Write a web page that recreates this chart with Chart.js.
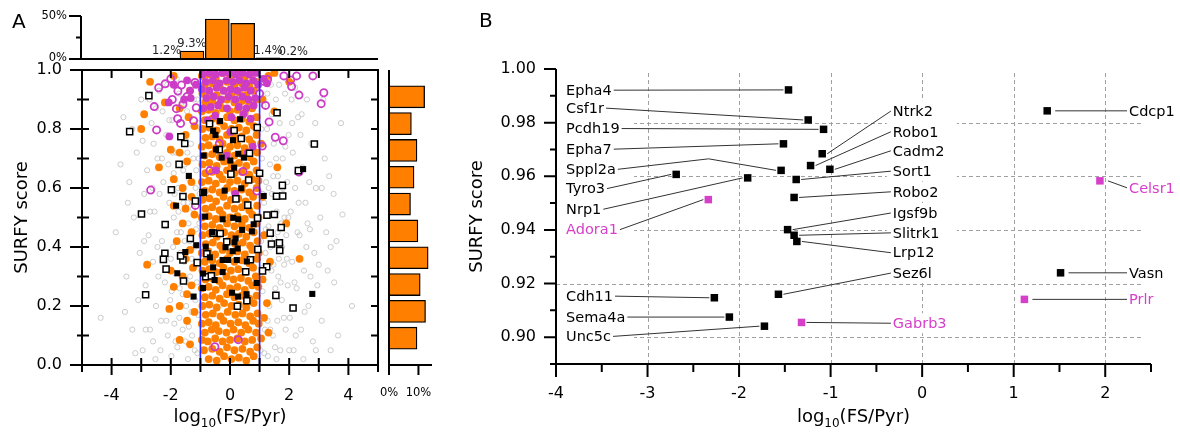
<!DOCTYPE html>
<html>
<head>
<meta charset="utf-8">
<script src="https://cdn.jsdelivr.net/npm/chart.js@4.4.0/dist/chart.umd.min.js"></script>
<style>
  body { margin: 0; background: #fff; width: 1180px; height: 434px; position: relative; overflow: hidden; }
  canvas { position: absolute; }
</style>
</head>
<body>
<canvas id="a-main" width="390" height="434" style="left:0px;top:0px"></canvas>
<canvas id="a-top" width="390" height="68" style="left:0px;top:0px"></canvas>
<canvas id="a-right" width="70" height="434" style="left:372px;top:0px"></canvas>
<canvas id="b-main" width="740" height="434" style="left:440px;top:0px"></canvas>
<script>
// ---- Painel A: histogramas ----
var topHistX = [-2.5, -1.5, -0.5, 0.5, 1.5, 2.5];
var topHistPct = [1.2, 9.3, 46.4, 41.5, 1.4, 0.2];
var rightHistY = [0.95, 0.85, 0.75, 0.65, 0.55, 0.45, 0.35, 0.25, 0.15, 0.05];
var rightHistPct = [12.1, 7.6, 9.5, 8.5, 7.3, 9.8, 13.3, 10.6, 12.4, 9.5];
var cutoffs = [-1, 1];

// ---- Painel A: pontos (log10 FS/Pyr, SURFY score) ----
var grayPts = [[-4.37,.16],[-3.86,.45],[-3.6,.84],[-3.5,.3],[-3.4,.62],[-3.3,.12],[-3.25,.5],[-3.15,.72],[-3.1,.22],[-3.05,.38],[-3.0,.9],[-2.95,.05],[-3.2,.04],[-3.45,.55],[-3.7,.68],
  [-2.9,.58],[-2.85,.27],[-2.8,.66],[-2.75,.44],[-2.7,.12],[-2.65,.82],[-2.6,.35],[-2.55,.52],[-2.5,.2],[-2.45,.7],[-2.4,.93],[-2.35,.05],[-2.3,.42],[-2.25,.62],[-2.2,.28],[-2.15,.78],[-2.1,.1],[-2.05,.55],[-2.0,.36],[-2.95,.76],[-2.62,.6],[-2.42,.3],[-2.28,.86],[-2.18,.47],[-2.08,.68],[-2.72,.9],[-2.52,.02],[-2.33,.15],[-2.12,.95],[-2.9,.42],[-2.58,.75],[-2.38,.58],[-2.22,.38],[-2.02,.22],
  [-1.95,.83],[-1.9,.5],[-1.88,.14],[-1.85,.31],[-1.82,.72],[-1.78,.06],[-1.75,.6],[-1.72,.92],[-1.7,.26],[-1.66,.45],[-1.62,.78],[-1.6,.12],[-1.57,.55],[-1.55,.35],[-1.52,.68],[-1.48,.2],[-1.45,.86],[-1.42,.02],[-1.4,.48],[-1.38,.63],[-1.35,.3],[-1.32,.75],[-1.28,.1],[-1.25,.53],[-1.22,.9],[-1.2,.4],[-1.17,.22],[-1.14,.66],[-1.1,.04],[-1.08,.82],[-1.05,.34],[-1.03,.58],[-1.92,.4],[-1.8,.97],[-1.68,.38],[-1.5,.08],[-1.3,.18],[-1.15,.46],[-1.9,.65],[-1.6,.24],[-1.44,.72],[-1.26,.96],[-1.12,.28],[-1.98,.03],[-1.74,.52],[-1.36,.42],[-1.06,.7],
  [-2.05,.83],[-1.97,.25],[-1.93,.72],[-1.87,.58],[-1.84,.08],[-1.79,.45],[-1.71,.16],[-1.64,.88],[-1.58,.66],[-1.53,.42],[-1.47,.28],[-1.43,.55],[-1.39,.13],[-1.34,.84],[-1.29,.36],[-1.24,.7],[-1.19,.05],[-1.16,.6],[-1.11,.9],[-1.07,.17],[-1.04,.48],[-2.45,.4],[-2.6,.08],[-2.3,.7],[-2.15,.15],[-2.7,.52],[-2.5,.87],[-3.3,.8],[-3.55,.18],[-2.85,.12],
  [1.03,.05],[1.05,.42],[1.08,.7],[1.1,.25],[1.13,.88],[1.15,.55],[1.18,.12],[1.2,.38],[1.22,.62],[1.25,.8],[1.28,.03],[1.3,.47],[1.33,.2],[1.35,.68],[1.38,.95],[1.4,.32],[1.42,.58],[1.45,.1],[1.48,.75],[1.5,.43],[1.53,.26],[1.55,.9],[1.58,.52],[1.6,.15],[1.62,.64],[1.65,.36],[1.68,.82],[1.7,.05],[1.73,.48],[1.75,.22],[1.78,.7],[1.8,.58],[1.83,.34],[1.86,.92],[1.88,.12],[1.9,.44],[1.93,.62],[1.95,.27],[1.98,.78],[1.12,.33],[1.27,.15],[1.46,.64],[1.63,.3],[1.84,.5],[1.07,.97],[1.37,.4],[1.57,.02],[1.76,.4],
  [1.02,.3],[1.06,.8],[1.1,.58],[1.16,.04],[1.21,.46],[1.26,.92],[1.31,.6],[1.36,.12],[1.41,.85],[1.47,.34],[1.52,.06],[1.56,.7],[1.61,.45],[1.66,.95],[1.71,.28],[1.77,.6],[1.82,.16],[1.87,.74],[1.92,.36],[1.97,.5],
  [2.02,.16],[2.05,.52],[2.1,.35],[2.12,.72],[2.15,.05],[2.2,.6],[2.25,.26],[2.3,.84],[2.35,.44],[2.4,.12],[2.45,.67],[2.5,.32],[2.55,.55],[2.6,.9],[2.65,.2],[2.7,.46],[2.75,.75],[2.8,.08],[2.85,.38],[2.9,.6],[2.95,.27],[2.08,.9],[2.28,.45],[2.48,.02],[2.68,.62],[2.88,.82],[2.18,.28],[2.38,.78],[2.58,.4],
  [2.1,.82],[2.22,.1],[2.32,.55],[2.42,.85],[2.52,.18],[2.62,.48],[2.72,.3],[2.9,.05],[2.2,.94],[2.0,.05],
  [3.05,.5],[3.1,.15],[3.2,.7],[3.3,.32],[3.4,.05],[3.5,.58],[3.52,.28],[3.6,.42],[3.75,.82],[3.8,.51],[4.12,.2],[3.15,.9],[3.35,.64],[3.65,.1],[3.25,.45],[3.0,.34],[3.1,.6],[3.4,.4]];

var orangePts = [[-.72,.02],[-.45,.015],[-.2,.03],[.05,.02],[.3,.025],[.55,.015],[.8,.03],
  [-.88,.05],[-.6,.055],[-.35,.045],[-.1,.06],[.15,.05],[.42,.055],[.68,.045],[.92,.06],[-1.35,.07],
  [-.95,.085],[-.75,.08],[-.5,.09],[-.25,.08],[0,.085],[.25,.09],[.5,.08],[.75,.085],[1.05,.09],[-1.7,.085],
  [-.85,.11],[-.62,.12],[-.38,.115],[-.12,.11],[.12,.12],[.38,.11],[.62,.12],[.88,.11],[1.3,.11],
  [-.95,.14],[-.72,.145],[-.48,.135],[-.22,.15],[.02,.14],[.28,.145],[.52,.135],[.78,.15],[.97,.14],[-1.45,.15],[1.15,.16],
  [-.82,.17],[-.58,.175],[-.32,.165],[-.08,.18],[.18,.17],[.42,.175],[.68,.165],[.93,.175],[-1.2,.18],
  [-.93,.2],[-.7,.205],[-.45,.195],[-.2,.21],[.05,.2],[.3,.205],[.55,.195],[.8,.21],[-1.7,.2],[-2.05,.19],[1.25,.21],
  [-.85,.23],[-.6,.235],[-.35,.225],[-.1,.24],[.15,.23],[.4,.235],[.65,.225],[.9,.235],[-1.45,.24],
  [-.95,.26],[-.72,.265],[-.48,.255],[-.25,.27],[0,.26],[.25,.265],[.5,.255],[.75,.27],[.96,.265],[-1.3,.27],[-1.9,.265],
  [-.83,.29],[-.6,.295],[-.37,.285],[-.12,.3],[.12,.29],[.37,.295],[.62,.285],[.87,.3],[-1.6,.3],[1.1,.29],
  [-.93,.32],[-.7,.325],[-.47,.315],[-.22,.33],[.03,.32],[.28,.325],[.53,.315],[.78,.33],[-1.25,.33],[-2.0,.32],
  [-.85,.35],[-.6,.355],[-.35,.345],[-.1,.36],[.15,.35],[.4,.355],[.65,.345],[.92,.36],[-1.5,.36],[-2.8,.34],[1.35,.35],
  [-.95,.38],[-.73,.385],[-.5,.375],[-.25,.39],[0,.38],[.25,.385],[.5,.375],[.75,.39],[.97,.38],[-1.35,.39],[2.35,.36],
  [-.82,.41],[-.58,.415],[-.33,.405],[-.08,.42],[.18,.41],[.43,.415],[.68,.405],[.93,.42],[-1.8,.42],
  [-.93,.44],[-.7,.445],[-.45,.435],[-.2,.45],[.05,.44],[.3,.445],[.55,.435],[.8,.45],[-1.3,.45],[1.15,.44],
  [-.85,.47],[-.6,.475],[-.35,.465],[-.1,.48],[.15,.47],[.4,.475],[.65,.465],[.9,.48],[-1.6,.48],[1.9,.48],
  [-.95,.5],[-.72,.505],[-.48,.495],[-.25,.51],[0,.5],[.25,.505],[.5,.495],[.75,.51],[.96,.5],[-1.2,.51],
  [-.83,.53],[-.6,.535],[-.35,.525],[-.1,.54],[.15,.53],[.4,.535],[.65,.525],[.92,.54],[-1.5,.53],[-1.9,.54],
  [-.93,.56],[-.7,.565],[-.47,.555],[-.22,.57],[.03,.56],[.28,.565],[.53,.555],[.78,.57],[-1.3,.57],[1.1,.57],
  [-.85,.59],[-.6,.595],[-.35,.585],[-.1,.6],[.15,.59],[.4,.595],[.65,.585],[.9,.6],[-1.6,.6],
  [-.95,.62],[-.72,.625],[-.48,.615],[-.25,.63],[0,.62],[.25,.625],[.5,.615],[.75,.63],[.96,.625],[-1.9,.63],[-1.3,.62],
  [-.83,.65],[-.6,.655],[-.35,.645],[-.1,.66],[.15,.65],[.4,.655],[.65,.645],[.9,.66],[1.6,.67],
  [-.93,.68],[-.7,.685],[-.45,.675],[-.2,.69],[.05,.68],[.3,.685],[.55,.675],[.8,.69],[-2.4,.67],[-1.45,.69],
  [-.85,.71],[-.6,.715],[-.35,.705],[-.1,.72],[.15,.71],[.4,.715],[.65,.705],[.92,.72],[-1.7,.72],
  [-.95,.74],[-.72,.745],[-.48,.735],[-.25,.75],[0,.74],[.25,.745],[.5,.735],[.75,.75],[-2.0,.73],[1.05,.75],
  [-.83,.77],[-.6,.775],[-.35,.765],[-.1,.78],[.15,.77],[.4,.775],[.65,.765],[.9,.78],[-1.5,.78],
  [-.93,.8],[-.7,.805],[-.45,.795],[-.2,.81],[.05,.8],[.3,.805],[.55,.795],[.8,.81],[-3.0,.8],[-1.2,.81],
  [-.85,.83],[-.6,.835],[-.35,.825],[-.1,.84],[.15,.83],[.4,.835],[.65,.825],[.9,.84],[-1.4,.84],
  [-.95,.86],[-.72,.865],[-.48,.855],[-.25,.87],[0,.86],[.25,.865],[.5,.855],[.75,.87],[-2.9,.85],[1.5,.86],[-1.7,.87],
  [-.83,.89],[-.6,.895],[-.35,.885],[-.1,.9],[.15,.89],[.4,.895],[.65,.885],[.9,.9],[-2.2,.89],[1.1,.9],
  [-.93,.92],[-.7,.925],[-.45,.915],[-.2,.93],[.05,.92],[.3,.925],[.55,.915],[.8,.93],[-1.35,.93],
  [-.85,.95],[-.6,.955],[-.35,.945],[-.1,.96],[.15,.95],[.4,.955],[.65,.945],[.9,.96],[-2.7,.96],[2.0,.96],
  [-.95,.98],[-.72,.985],[-.48,.975],[-.25,.99],[0,.98],[.25,.985],[.5,.975],[.75,.99],[-1.9,.98],[1.3,.98],[1.5,.99]];

var magentaOpenPts = [[-2.41,.94],[-2.19,.953],[-1.76,.929],[-1.64,.949],[-2.56,.876],[-2.48,.797],[-1.77,.835],[-1.67,.819],[-1.81,.869],[-1.59,.884],[-1.23,.828],[-1.14,.872],[-1.18,.958],[-2.68,.593],[-1.17,.541],[1.82,.98],[2.25,.98],[2.8,.98],[2.08,.944],[2.33,.915],[3.17,.923],[3.08,.886],[1.32,.824],[1.53,.772],[1.8,.76],[1.09,.742],[2.33,.654],[.44,.656],[-.68,.659],[.28,.086],[-.51,.062],[1.14,.962],[1.27,.968],[.91,.59],[-.36,.75],[2.05,.966],[-1.45,.91],[-2.0,.97],[-1.95,.9],[1.0,.92],[1.2,.88]];

var magentaFillPts = [[-.92,.985],[-.7,.99],[-.48,.985],[-.25,.99],[-.02,.99],[.2,.985],[.42,.99],[.65,.985],[.88,.99],
  [-.82,.96],[-.58,.965],[-.35,.955],[-.12,.965],[.1,.96],[.32,.965],[.55,.955],[.78,.965],[.95,.95],
  [-.95,.935],[-.7,.93],[-.45,.94],[-.22,.93],[.02,.935],[.25,.93],[.48,.94],[.7,.93],
  [-.8,.905],[-.55,.91],[-.3,.9],[-.05,.91],[.18,.9],[.42,.91],[.62,.9],[.85,.905],
  [-.65,.875],[-.4,.88],[-.1,.87],[.3,.875],[.55,.87],[.8,.88],[-.9,.87],
  [-.5,.845],[.05,.84],[.45,.85],[-.75,.83],[.7,.835],
  [-1.15,.95],[-1.35,.93],[-1.55,.9],[-1.33,.905],[-2.07,.89],[-2.05,.775],[-1.45,.965],[-1.9,.95],[1.12,.97],[1.25,.955],
  [.01,.79],[-.11,.71],[.77,.74],[-.47,.66],[.18,.58],[.6,.72]];

var blackFillPts = [[-.34,.827],[-.57,.794],[-.49,.78],[.1,.762],[-.47,.731],[.28,.716],[-.89,.71],[-.28,.703],[.01,.693],[.47,.703],[.14,.669],[-1.39,.641],[-.18,.591],[.38,.599],[-.88,.586],[1.14,.573],[2.47,.664],[-1.82,.54],[-.84,.503],[.11,.499],[-.25,.494],[.28,.494],[.8,.477],[.41,.458],[-.61,.45],[.74,.453],[-1.14,.406],[.19,.429],[.15,.416],[-.15,.399],[-.82,.401],[-1.51,.383],[.26,.395],[-.68,.365],[-.06,.356],[-.25,.356],[.23,.356],[.57,.351],[-1.78,.311],[-.57,.331],[-.25,.315],[-.91,.31],[-.52,.288],[-.91,.261],[-1.23,.232],[.07,.245],[.27,.232],[.56,.24],[.9,.278],[2.78,.241],[.34,.833],[.09,.386]];

var blackOpenPts = [[-3.39,.791],[-2.74,.913],[-1.66,.774],[-1.53,.751],[-1.72,.68],[-1.98,.594],[-1.59,.571],[-1.17,.556],[-2.99,.512],[-2.19,.476],[-1.34,.429],[-2.2,.379],[-2.25,.358],[-2.16,.325],[-1.59,.356],[-1.67,.37],[-1.11,.347],[-1.57,.285],[-2.85,.238],[-.69,.818],[.14,.795],[.92,.805],[.38,.768],[-.36,.73],[.66,.718],[.03,.647],[.63,.627],[1.0,.65],[1.59,.855],[2.85,.749],[2.31,.659],[1.77,.609],[1.57,.572],[1.78,.573],[1.25,.508],[1.5,.51],[1.36,.447],[1.73,.466],[1.4,.41],[1.67,.414],[1.68,.388],[.94,.392],[1.24,.333],[1.1,.319],[1.55,.236],[2.13,.193],[.25,.199],[.57,.218],[-.91,.585],[-.57,.447],[-.33,.446],[.2,.563],[.6,.542],[.93,.498],[-.82,.299],[-.63,.302],[-.11,.418],[-.78,.377],[.53,.316],[.69,.357]];

// ---- Painel B: genes ----
var geneNames = ["Epha4","Csf1r","Pcdh19","Epha7","Sppl2a","Tyro3","Nrp1","Adora1","Cdh11","Sema4a","Unc5c",
  "Ntrk2","Robo1","Cadm2","Sort1","Robo2","Igsf9b","Slitrk1","Lrp12","Sez6l","Gabrb3",
  "Cdcp1","Celsr1","Vasn","Prlr"];
var geneX = [-1.46,-1.245,-1.077,-1.515,-1.541,-2.687,-1.906,-2.336,-2.27,-2.106,-1.723,
  -1.092,-1.219,-1.008,-1.376,-1.399,-1.47,-1.399,-1.369,-1.57,-1.318,
  1.366,1.942,1.512,1.117];
var geneY = [0.9922,0.981,0.9775,0.9721,0.9622,0.9607,0.9594,0.9513,0.9147,0.9075,0.9041,
  0.9684,0.964,0.9626,0.9588,0.9521,0.9401,0.938,0.9357,0.916,0.9055,
  0.9844,0.9583,0.924,0.9141];
var pinkGenes = ["Adora1","Gabrb3","Celsr1","Prlr"];

// posição dos rótulos (layout, em unidades dos eixos)
var labelCol = ["L","L","L","L","L","L","L","L","L","L","L","M","M","M","M","M","M","M","M","M","M","R","R","R","R"];
var labelY = [0.9921,0.9854,0.9778,0.9701,0.9626,0.9554,0.9477,0.9401,0.9153,0.9075,0.9003,
  0.9843,0.9766,0.9695,0.9619,0.9542,0.9463,0.9389,0.9315,0.9239,0.9052,
  0.9844,0.9557,0.924,0.9141];
var colX = { L: -3.89, M: -0.32, R: 2.26 };
var colBox = { L: [-9, 77], M: [-6, 70], R: [-3, 60] };
var elbows = { Sppl2a: [-2.333, 0.9665] };

var FONT = "'DejaVu Sans', sans-serif";
Chart.defaults.font.family = FONT;
Chart.defaults.color = "#000";

var ORANGE = "#ff8000";
var MAGENTA = "#cc3cc6";
var PINK_B = "#d63fc9";

function pts(list) {
  return list.map(function (p) { return { x: p[0], y: p[1] }; });
}

function seg(ctx, x1, y1, x2, y2) {
  ctx.moveTo(x1, y1);
  ctx.lineTo(x2, y2);
}

// a folga dos rótulos não deve encolher a área do gráfico
function fitX(h) {
  return function (s) { s.height = h; s.paddingLeft = 0; s.paddingRight = 0; };
}
function fitY(w) {
  return function (s) { s.width = w; s.paddingTop = 0; s.paddingBottom = 0; };
}

function logTitle(ctx, cx, baseline) {
  var big = "18px " + FONT, small = "12px " + FONT;
  ctx.save();
  ctx.fillStyle = "#000";
  ctx.textAlign = "left";
  ctx.textBaseline = "alphabetic";
  ctx.font = big;
  var w1 = ctx.measureText("log").width;
  var w3 = ctx.measureText("(FS/Pyr)").width;
  ctx.font = small;
  var w2 = ctx.measureText("10").width;
  var x0 = cx - (w1 + w2 + w3) / 2;
  ctx.font = big;
  ctx.fillText("log", x0, baseline);
  ctx.font = small;
  ctx.fillText("10", x0 + w1, baseline + 5);
  ctx.font = big;
  ctx.fillText("(FS/Pyr)", x0 + w1 + w2, baseline);
  ctx.restore();
}

var noLegend = { legend: { display: false }, tooltip: { enabled: false } };

//Moldura e ticks do painel A
var frameA = {
  id: "frameA",
  afterDraw: function (chart) {
    var ctx = chart.ctx, a = chart.chartArea, x = chart.scales.x, y = chart.scales.y;
    ctx.save();
    ctx.strokeStyle = "#000";
    ctx.lineWidth = 2;
    ctx.strokeRect(a.left, a.top, a.right - a.left, a.bottom - a.top);
    ctx.beginPath();
    for (var v = -5; v <= 5; v++) {
      var px = x.getPixelForValue(v);
      seg(ctx, px, a.bottom - 7, px, a.bottom + (v % 2 === 0 ? 10 : 7));
      seg(ctx, px, a.top, px, a.top + 8);
    }
    for (var i = 0; i <= 10; i++) {
      var py = y.getPixelForValue(i / 10);
      seg(ctx, a.left - (i % 2 === 0 ? 12 : 5), py, a.left + 7, py);
      seg(ctx, a.right - 7, py, a.right, py);
    }
    ctx.stroke();
    ctx.restore();
    logTitle(ctx, (a.left + a.right) / 2, 422);
    ctx.save();
    ctx.font = "20px " + FONT;
    ctx.fillStyle = "#000";
    ctx.fillText("A", 12, 28);
    ctx.restore();
  }
};

new Chart(document.getElementById("a-main"), {
  type: "scatter",
  data: {
    datasets: [
      { data: pts(blackFillPts), pointStyle: "rect", pointRadius: 4.3, backgroundColor: "#000", borderWidth: 0 },
      { data: pts(blackOpenPts), pointStyle: "rect", pointRadius: 4.3, backgroundColor: "#fff", borderColor: "#000", borderWidth: 1.5 },
      { data: [{ x: cutoffs[0], y: 0 }, { x: cutoffs[0], y: 1 }], showLine: true, pointRadius: 0, borderColor: "#2323ff", borderWidth: 1.6 },
      { data: [{ x: cutoffs[1], y: 0 }, { x: cutoffs[1], y: 1 }], showLine: true, pointRadius: 0, borderColor: "#2323ff", borderWidth: 1.6 },
      { data: pts(magentaFillPts), pointRadius: 3.9, backgroundColor: MAGENTA, borderWidth: 0 },
      { data: pts(magentaOpenPts), pointRadius: 3.6, backgroundColor: "rgba(0,0,0,0)", borderColor: MAGENTA, borderWidth: 1.8 },
      { data: pts(orangePts), pointRadius: 3.9, backgroundColor: ORANGE, borderWidth: 0 },
      { data: pts(grayPts), pointRadius: 2.6, backgroundColor: "rgba(0,0,0,0)", borderColor: "#c6c6c6", borderWidth: 0.9 }
    ]
  },
  options: {
    responsive: false,
    animation: false,
    devicePixelRatio: 1,
    layout: { padding: { top: 70, right: 12, left: 0, bottom: 0 } },
    plugins: noLegend,
    scales: {
      x: {
        type: "linear", min: -5, max: 5,
        grid: { display: false, drawTicks: false }, border: { display: false },
        ticks: { stepSize: 1, autoSkip: false, maxRotation: 0, padding: 21, font: { size: 16 },
          callback: function (v) { return v % 2 === 0 ? String(v) : ""; } },
        afterFit: fitX(69)
      },
      y: {
        min: 0, max: 1,
        grid: { display: false, drawTicks: false }, border: { display: false },
        ticks: { stepSize: 0.1, autoSkip: false, padding: 20, font: { size: 16 },
          callback: function (v) { return Math.round(v * 10) % 2 === 0 ? v.toFixed(1) : ""; } },
        title: { display: true, text: "SURFY score", font: { size: 18 }, padding: { top: 12 } },
        afterFit: fitY(82)
      }
    }
  },
  plugins: [frameA]
});

//Histograma de cima
var axesTop = {
  id: "axesTop",
  afterDraw: function (chart) {
    var ctx = chart.ctx, a = chart.chartArea, y = chart.scales.y;
    var y0 = y.getPixelForValue(0), y25 = y.getPixelForValue(25), y50 = y.getPixelForValue(50);
    ctx.save();
    ctx.strokeStyle = "#000";
    ctx.lineWidth = 2;
    ctx.beginPath();
    seg(ctx, a.left - 1, y50, a.left - 1, y0);
    seg(ctx, a.left - 13, y0, a.right, y0);
    seg(ctx, a.left - 13, y50, a.left - 1, y50);
    seg(ctx, a.left - 6, y25, a.left - 1, y25);
    ctx.stroke();
    ctx.font = "11.5px " + FONT;
    ctx.fillStyle = "#000";
    ctx.textAlign = "right";
    ctx.textBaseline = "middle";
    ctx.fillText("50%", a.left - 15, y50);
    ctx.fillText("0%", a.left - 15, y0 - 1);
    ctx.fillStyle = "#222";
    ctx.textAlign = "center";
    ctx.textBaseline = "bottom";
    chart.getDatasetMeta(0).data.forEach(function (bar, i) {
      if (topHistPct[i] < 10) ctx.fillText(topHistPct[i].toFixed(1) + "%", bar.x, bar.y - 1);
    });
    ctx.restore();
  }
};

new Chart(document.getElementById("a-top"), {
  type: "bar",
  data: {
    datasets: [{
      data: topHistX.map(function (x, i) { return { x: x, y: topHistPct[i] }; }),
      backgroundColor: ORANGE, borderColor: "#000", borderWidth: 1.3, borderSkipped: false, barThickness: 24
    }]
  },
  options: {
    responsive: false,
    animation: false,
    devicePixelRatio: 1,
    layout: { padding: { top: 16, right: 12, left: 82, bottom: 9 } },
    plugins: noLegend,
    scales: {
      x: { type: "linear", min: -5, max: 5, display: false },
      y: { min: 0, max: 50, display: false }
    }
  },
  plugins: [axesTop]
});

//Histograma da direita
var axesRight = {
  id: "axesRight",
  afterDraw: function (chart) {
    var ctx = chart.ctx, a = chart.chartArea, x = chart.scales.x;
    ctx.save();
    ctx.strokeStyle = "#000";
    ctx.lineWidth = 2;
    ctx.beginPath();
    seg(ctx, a.left, a.top, a.left, a.bottom + 10);
    seg(ctx, a.left, a.bottom, a.right, a.bottom);
    seg(ctx, x.getPixelForValue(10), a.bottom, x.getPixelForValue(10), a.bottom + 10);
    ctx.stroke();
    ctx.restore();
  }
};

new Chart(document.getElementById("a-right"), {
  type: "bar",
  data: {
    datasets: [{
      data: rightHistY.map(function (y, i) { return { y: y, x: rightHistPct[i] }; }),
      backgroundColor: ORANGE, borderColor: "#000", borderWidth: 1.3, borderSkipped: false, barThickness: 22
    }]
  },
  options: {
    indexAxis: "y",
    responsive: false,
    animation: false,
    devicePixelRatio: 1,
    layout: { padding: { top: 70, right: 10, left: 17, bottom: 0 } },
    plugins: noLegend,
    scales: {
      x: {
        type: "linear", min: 0, max: 14.6,
        grid: { display: false, drawTicks: false }, border: { display: false },
        ticks: { stepSize: 10, includeBounds: false, autoSkip: false, maxRotation: 0, padding: 21, font: { size: 11.5 },
          callback: function (v) { return v + "%"; } },
        afterFit: fitX(69)
      },
      y: { type: "linear", min: 0, max: 1, display: false }
    }
  },
  plugins: [axesRight]
});

// ---- Painel B ----
var gridXB = [-3, -2, -1, 0, 1, 2];
var gridYB = [0.90, 0.92, 0.94, 0.96, 0.98];

var labelsB = {
  id: "labelsB",
  beforeDatasetsDraw: function (chart) {
    var ctx = chart.ctx, a = chart.chartArea, x = chart.scales.x, y = chart.scales.y;
    ctx.save();
    ctx.strokeStyle = "#a0a0a0";
    ctx.lineWidth = 1;
    ctx.setLineDash([4, 3]);
    ctx.beginPath();
    gridXB.forEach(function (v) {
      var px = Math.round(x.getPixelForValue(v)) + 0.5;
      seg(ctx, px, a.top + 4, px, a.bottom);
    });
    gridYB.forEach(function (v) {
      var py = Math.round(y.getPixelForValue(v)) + 0.5;
      seg(ctx, a.left, py, a.right - 8, py);
    });
    ctx.stroke();
    ctx.setLineDash([]);

    // fundo branco dos rótulos
    ctx.fillStyle = "#fff";
    geneNames.forEach(function (n, i) {
      var c = labelCol[i];
      var lx = x.getPixelForValue(colX[c]);
      var ly = y.getPixelForValue(labelY[i]);
      ctx.fillRect(lx + colBox[c][0], ly - 10, colBox[c][1], 20);
    });

    // linhas de chamada
    ctx.font = "14.5px " + FONT;
    ctx.strokeStyle = "#333";
    ctx.lineWidth = 1;
    ctx.beginPath();
    geneNames.forEach(function (n, i) {
      var c = labelCol[i];
      var lx = x.getPixelForValue(colX[c]);
      var ly = y.getPixelForValue(labelY[i]);
      var px = x.getPixelForValue(geneX[i]);
      var py = y.getPixelForValue(geneY[i]);
      if (c === "L") {
        ctx.moveTo(lx + ctx.measureText(n).width + 2, ly);
        if (elbows[n]) ctx.lineTo(x.getPixelForValue(elbows[n][0]), y.getPixelForValue(elbows[n][1]));
        ctx.lineTo(px - 5, py);
      } else {
        ctx.moveTo(px + (c === "R" ? 8 : 5), py);
        ctx.lineTo(lx - 2, ly);
      }
    });
    ctx.stroke();
    ctx.restore();
  },
  afterDatasetsDraw: function (chart) {
    var ctx = chart.ctx, x = chart.scales.x, y = chart.scales.y;
    ctx.save();
    ctx.font = "14.5px " + FONT;
    ctx.textAlign = "left";
    ctx.textBaseline = "middle";
    geneNames.forEach(function (n, i) {
      ctx.fillStyle = pinkGenes.indexOf(n) >= 0 ? PINK_B : "#000";
      ctx.fillText(n, x.getPixelForValue(colX[labelCol[i]]), y.getPixelForValue(labelY[i]) + 1);
    });
    ctx.restore();
  },
  afterDraw: function (chart) {
    var ctx = chart.ctx, a = chart.chartArea, x = chart.scales.x, y = chart.scales.y;
    ctx.save();
    ctx.strokeStyle = "#000";
    ctx.lineWidth = 2;
    ctx.beginPath();
    seg(ctx, a.left, a.top, a.left, a.bottom + 1);
    seg(ctx, a.left - 1, a.bottom, a.right, a.bottom);
    for (var k = -8; k <= 5; k++) {
      var px = x.getPixelForValue(k / 2);
      seg(ctx, px, a.bottom, px, a.bottom + (k % 2 === 0 ? 13 : 8));
    }
    for (var j = 89; j <= 100; j++) {
      var py = y.getPixelForValue(j / 100);
      seg(ctx, a.left - (j % 2 === 0 ? 12 : 6), py, a.left, py);
    }
    ctx.stroke();
    ctx.restore();
    logTitle(ctx, (a.left + a.right) / 2, 422);
    ctx.save();
    ctx.font = "20px " + FONT;
    ctx.fillStyle = "#000";
    ctx.fillText("B", 39, 27);
    ctx.restore();
  }
};

function genePts(pink) {
  var out = [];
  geneNames.forEach(function (n, i) {
    if ((pinkGenes.indexOf(n) >= 0) === pink) out.push({ x: geneX[i], y: geneY[i] });
  });
  return out;
}

new Chart(document.getElementById("b-main"), {
  type: "scatter",
  data: {
    datasets: [
      { data: genePts(false), pointStyle: "rect", pointRadius: 5.3, backgroundColor: "#000", borderWidth: 0 },
      { data: genePts(true), pointStyle: "rect", pointRadius: 5.3, backgroundColor: PINK_B, borderWidth: 0 }
    ]
  },
  options: {
    responsive: false,
    animation: false,
    devicePixelRatio: 1,
    layout: { padding: { top: 69, right: 29, left: 0, bottom: 0 } },
    plugins: noLegend,
    scales: {
      x: {
        type: "linear", min: -4, max: 2.5,
        grid: { display: false, drawTicks: false }, border: { display: false },
        ticks: { stepSize: 0.5, includeBounds: false, autoSkip: false, maxRotation: 0, padding: 20, font: { size: 16 },
          callback: function (v) { return Number.isInteger(v) ? String(v) : ""; } },
        afterFit: fitX(70)
      },
      y: {
        min: 0.89, max: 1.0,
        grid: { display: false, drawTicks: false }, border: { display: false },
        ticks: { stepSize: 0.01, autoSkip: false, padding: 20, font: { size: 16 },
          callback: function (v) { return Math.round(v * 100) % 2 === 0 ? v.toFixed(2) : ""; } },
        title: { display: true, text: "SURFY score", font: { size: 18 }, padding: { top: 27 } },
        afterFit: fitY(116)
      }
    }
  },
  plugins: [labelsB]
});
</script>
</body>
</html>
